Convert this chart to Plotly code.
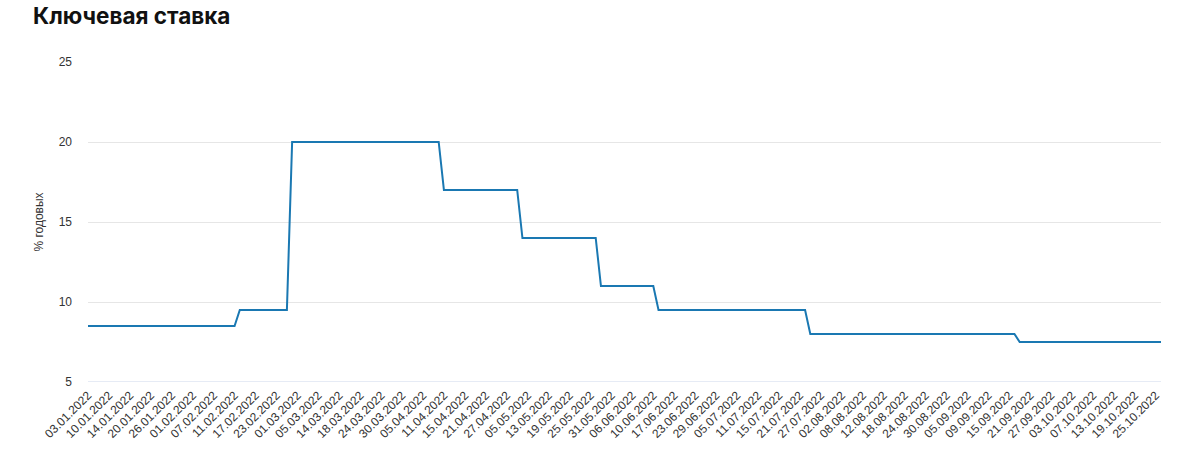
import datetime as dt
import plotly.graph_objects as go

# Key rate levels and the dates from which each level applies
change_dates = ["03.01.2022", "14.02.2022", "28.02.2022", "11.04.2022", "04.05.2022",
                "27.05.2022", "14.06.2022", "25.07.2022", "19.09.2022"]
rates = [8.5, 9.5, 20, 17, 14, 11, 9.5, 8, 7.5]

# Tick labels shown on the x axis
tick_labels = ["03.01.2022", "10.01.2022", "14.01.2022", "20.01.2022", "26.01.2022",
               "01.02.2022", "07.02.2022", "11.02.2022", "17.02.2022", "23.02.2022",
               "01.03.2022", "05.03.2022", "14.03.2022", "18.03.2022", "24.03.2022",
               "30.03.2022", "05.04.2022", "11.04.2022", "15.04.2022", "21.04.2022",
               "27.04.2022", "05.05.2022", "13.05.2022", "19.05.2022", "25.05.2022",
               "31.05.2022", "06.06.2022", "10.06.2022", "17.06.2022", "23.06.2022",
               "29.06.2022", "05.07.2022", "11.07.2022", "15.07.2022", "21.07.2022",
               "27.07.2022", "02.08.2022", "08.08.2022", "12.08.2022", "18.08.2022",
               "24.08.2022", "30.08.2022", "05.09.2022", "09.09.2022", "15.09.2022",
               "21.09.2022", "27.09.2022", "03.10.2022", "07.10.2022", "13.10.2022",
               "19.10.2022", "25.10.2022"]

# Trading-day calendar (categories)
holidays = {"07.01.2022", "07.03.2022", "08.03.2022", "02.05.2022", "03.05.2022",
            "09.05.2022", "10.05.2022", "13.06.2022"}
extra_days = {"05.03.2022"}
start, end = dt.date(2022, 1, 3), dt.date(2022, 10, 26)
dates = []
d = start
while d <= end:
    s = d.strftime("%d.%m.%Y")
    if (d.weekday() < 5 and s not in holidays) or s in extra_days:
        dates.append(s)
    d += dt.timedelta(days=1)

def parse(s):
    return dt.datetime.strptime(s, "%d.%m.%Y").date()

chg = [parse(c) for c in change_dates]
values = []
for s in dates:
    dd = parse(s)
    v = rates[0]
    for c, r in zip(chg, rates):
        if dd >= c:
            v = r
    values.append(v)

TICK_FONT = "Liberation Sans, Arial, sans-serif"

fig = go.Figure()
fig.add_trace(go.Scatter(
    x=dates, y=values, mode="lines",
    line=dict(color="#1a78b2", width=2),
    name="Ключевая ставка",
    hovertemplate="%{x}<br>%{y}%<extra></extra>",
))

fig.update_layout(
    width=1200, height=458,
    paper_bgcolor="white", plot_bgcolor="white",
    margin=dict(l=88, r=39, t=62, b=76, autoexpand=False),
    showlegend=False,
    font=dict(family=TICK_FONT, color="#333333"),
    title=dict(text="<b>Ключевая ставка</b>", x=33 / 1200, xref="container", xanchor="left",
               y=1 - 16 / 458, yref="container", yanchor="middle",
               pad=dict(l=0, t=0, b=0, r=0),
               font=dict(size=22.5, color="#111111", family="Inter, Roboto, Arial, sans-serif")),
)
fig.update_xaxes(
    type="category", categoryorder="array", categoryarray=dates,
    tickmode="array", tickvals=tick_labels, ticktext=tick_labels,
    tickangle=-45, tickfont=dict(size=12, color="#333333", family=TICK_FONT),
    showgrid=False, showline=False, zeroline=False, ticks="",
    ticklabelstandoff=3,
    range=[0, len(dates) - 1], automargin=False,
)
fig.update_yaxes(
    range=[5, 25], tickvals=[5, 10, 15, 20, 25],
    showgrid=True, gridcolor="#e6e6e6", gridwidth=1,
    zeroline=False, showline=False, ticks="",
    tickfont=dict(size=12, color="#333333", family=TICK_FONT),
    ticklabelstandoff=15, automargin=False,
    title=dict(text="% годовых", font=dict(size=12, color="#333333", family=TICK_FONT),
               standoff=12),
)
# x-axis baseline (at y=5)
fig.add_shape(type="line", xref="paper", yref="y", x0=0, x1=1, y0=5, y1=5,
              line=dict(color="#ccd6eb", width=1), layer="below")

fig.write_html("out.html", config={"displayModeBar": False})

# remove the browser's default page margin so the figure sits at the window origin
with open("out.html", "r", encoding="utf-8") as f:
    html = f.read()
html = html.replace("<head>", "<head><style>html,body{margin:0;padding:0;overflow:hidden;}</style>", 1)
with open("out.html", "w", encoding="utf-8") as f:
    f.write(html)
